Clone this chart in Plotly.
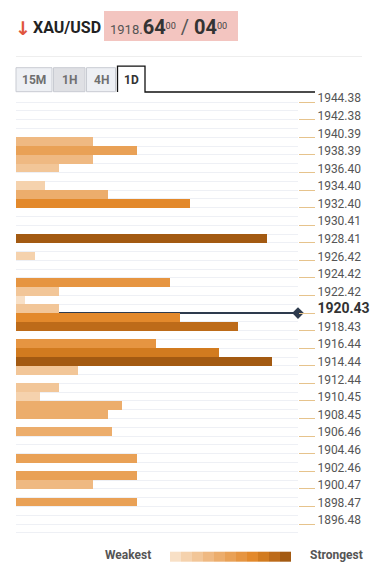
import plotly.graph_objects as go

# ---------------- data ----------------
levels = [1940.39, 1939.39, 1938.39, 1937.40, 1935.40, 1934.40, 1933.40, 1929.41, 1927.42,
          1924.42, 1923.42, 1922.42, 1921.43, 1920.43, 1919.43, 1917.44, 1916.44, 1915.44,
          1914.44, 1912.44, 1911.45, 1910.45, 1909.45, 1907.46, 1904.46, 1902.46, 1901.47,
          1899.47]
strength = [77, 121, 77, 43, 29, 92, 174, 251, 19,
            154, 43, 9, 43, 164, 222, 140, 203, 256,
            62, 43, 24, 106, 92, 96, 121, 121, 77,
            121]
tick_labels = ["1944.38", "1942.38", "1940.39", "1938.39", "1936.40", "1934.40", "1932.40",
               "1930.41", "1928.41", "1926.42", "1924.42", "1922.42", "1920.43", "1918.43",
               "1916.44", "1914.44", "1912.44", "1910.45", "1908.45", "1906.46", "1904.46",
               "1902.46", "1900.47", "1898.47", "1896.48"]
current_price = 1920.43
step = 0.998
x_max = 282
y_range = [1895.233, 1945.306]

palette = ["#f8e0c6", "#f5d2ad", "#f2c698", "#efb982", "#ecad6c", "#e9a156",
           "#e69541", "#e3892b", "#d27b1f", "#bd6b19", "#a35a12"]

colors = [palette[min(10, int(round(v / 25)))] for v in strength]

# ---------------- geometry helpers (layout only) ----------------
OFF = 8  # the page body adds an 8px margin
W, H = 378 - OFF, 573 - OFF
PLOT_L, PLOT_R, PLOT_T, PLOT_B = 16, 298, 94, 535  # target page pixels
L_M = PLOT_L - OFF
R_M = W - (PLOT_R - OFF)
T_M = PLOT_T - OFF
B_M = H - (PLOT_B - OFF)
PW = PLOT_R - PLOT_L
PH = PLOT_B - PLOT_T


def px(x):
    return (x - PLOT_L) / PW


def py(y):
    return (PLOT_B - y) / PH


FONT = "Roboto"

fig = go.Figure()

fig.add_trace(go.Bar(
    y=levels, x=strength, orientation="h",
    width=step, offset=-step,
    marker=dict(color=colors, line=dict(width=0)),
    hoverinfo="skip", showlegend=False,
))

fig.add_trace(go.Scatter(
    x=[x_max], y=[current_price], mode="markers",
    marker=dict(symbol="diamond", size=9, color="#2e3b4e"),
    cliponaxis=False, hoverinfo="skip", showlegend=False,
))

tickvals = [float(t) for t in tick_labels]
ticktext = []
for t in tick_labels:
    if float(t) == current_price:
        ticktext.append("<span style='font-size:14px;color:#333'><b>%s</b></span>" % t)
    else:
        ticktext.append(t)
minor_vals = [(a + b) / 2 for a, b in zip(tickvals[:-1], tickvals[1:])] + [tickvals[-1] - step]

shapes = []
# current price line
shapes.append(dict(type="line", xref="x", yref="y", x0=0, x1=x_max,
                   y0=current_price, y1=current_price,
                   line=dict(color="#2e3b4e", width=2), layer="between"))
# header pink box
shapes.append(dict(type="rect", xref="paper", yref="paper",
                   x0=px(104), x1=px(238), y0=py(41), y1=py(11),
                   fillcolor="#f3c5c0", line=dict(width=0), layer="below"))
# separator
shapes.append(dict(type="line", xref="paper", yref="paper",
                   x0=px(16), x1=px(362), y0=py(56.5), y1=py(56.5),
                   line=dict(color="#eeeeee", width=1)))
# tabs
tabs = [("15M", 16, 52, "#eef0f4"), ("1H", 53.5, 85, "#dfe0e4"), ("4H", 86.5, 115.5, "#eef0f4")]
for name, x0, x1, fc in tabs:
    shapes.append(dict(type="rect", xref="paper", yref="paper",
                       x0=px(x0), x1=px(x1), y0=py(91.7), y1=py(67.7),
                       fillcolor=fc, line=dict(color="#c8cbd2", width=1)))
shapes.append(dict(type="path", xref="paper", yref="paper",
                   path="M %f %f L %f %f L %f %f L %f %f L %f %f" % (
                       px(117.5), py(92), px(117.5), py(66.2), px(145), py(66.2),
                       px(145), py(92), px(315), py(92)),
                   line=dict(color="#111111", width=1.3)))
# legend gradient
lx0, lw = 170, 11
for i, c in enumerate(palette):
    shapes.append(dict(type="rect", xref="paper", yref="paper",
                       x0=px(lx0 + i * lw), x1=px(lx0 + (i + 1) * lw),
                       y0=py(561.7), y1=py(551.7),
                       fillcolor=c, line=dict(width=0)))

annotations = []
annotations.append(dict(xref="paper", yref="paper", x=px(13), y=py(28), xanchor="left",
                        yanchor="middle", showarrow=False, text="<b>↓</b>",
                        font=dict(family="DejaVu Sans", size=19, color="#e0553d")))
annotations.append(dict(xref="paper", yref="paper", x=px(31), y=py(27.5), xanchor="left",
                        yanchor="middle", showarrow=False, text="<b>XAU/USD</b>",
                        font=dict(family=FONT, size=16, color="#222222")))
annotations.append(dict(xref="paper", yref="paper", x=px(108), y=py(27), xanchor="left",
                        yanchor="middle", showarrow=False,
                        text="<span style='font-size:13px;color:#555'>1918.</span>"
                             "<b>64</b><span style='font-size:13px;color:#444'><sup>00</sup></span>"
                             "<span style='color:#555'> / </span>"
                             "<b>04</b><span style='font-size:13px;color:#444'><sup>00</sup></span>",
                        font=dict(family=FONT, size=20, color="#333333")))
for name, x0, x1, fc in tabs:
    annotations.append(dict(xref="paper", yref="paper", x=px((x0 + x1) / 2), y=py(80),
                            xanchor="center", yanchor="middle", showarrow=False,
                            text="<b>%s</b>" % name,
                            font=dict(family=FONT, size=12, color="#707070")))
annotations.append(dict(xref="paper", yref="paper", x=px(131.2), y=py(80),
                        xanchor="center", yanchor="middle", showarrow=False,
                        text="<b>1D</b>", font=dict(family=FONT, size=12, color="#333333")))
annotations.append(dict(xref="paper", yref="paper", x=px(153), y=py(555), xanchor="right",
                        yanchor="middle", showarrow=False, text="<b>Weakest</b>",
                        font=dict(family=FONT, size=12, color="#555555")))
annotations.append(dict(xref="paper", yref="paper", x=px(308), y=py(555), xanchor="left",
                        yanchor="middle", showarrow=False, text="<b>Strongest</b>",
                        font=dict(family=FONT, size=12, color="#555555")))

fig.update_layout(
    width=W, height=H,
    margin=dict(l=L_M, r=R_M, t=T_M, b=B_M, autoexpand=False),
    paper_bgcolor="white", plot_bgcolor="white",
    bargap=0,
    xaxis=dict(range=[0, x_max], visible=False, fixedrange=True),
    yaxis=dict(range=y_range, side="right", tickmode="array",
               tickvals=tickvals, ticktext=ticktext,
               ticks="outside", ticklen=16, tickcolor="#e6c38c", tickwidth=1,
               ticklabelshift=-4, ticklabelstandoff=0, automargin=False,
               tickfont=dict(family=FONT, size=12, color="#555555"),
               showgrid=True, gridcolor="#eef0f5", gridwidth=1,
               zeroline=False, showline=False,
               minor=dict(tickmode="array", tickvals=minor_vals, showgrid=True,
                          gridcolor="#eef0f5", gridwidth=1, ticks="")),
    shapes=shapes, annotations=annotations,
    showlegend=False,
)

fig.write_html("out.html")
